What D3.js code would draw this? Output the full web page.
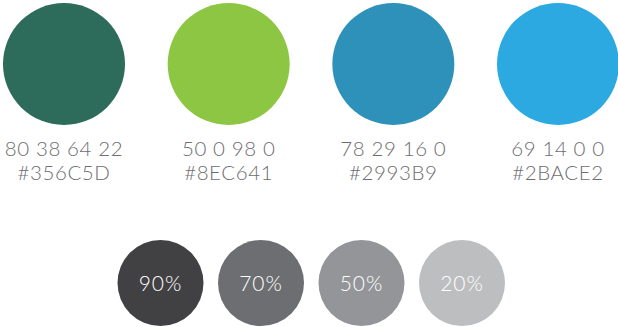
<!DOCTYPE html>
<html>
<head>
<meta charset="utf-8">
<script src="https://cdn.jsdelivr.net/npm/d3@7"></script>
<style>
  html, body { margin: 0; padding: 0; background: #fff; }
  svg { display: block; }
</style>
</head>
<body>
<div id="main"></div>
<script>
// palette data
const swatchHex = ['#356C5D', '#8EC641', '#2993B9', '#2BACE2'];
const swatchFill = ['#2D6B5B', '#8DC642', '#2E91B9', '#2BA9E0'];
const swatchCmyk = ['80 38 64 22', '50 0 98 0', '78 29 16 0', '69 14 0 0'];
const tintLabels = ['90%', '70%', '50%', '20%'];
const tintFill = ['#414042', '#6D6E71', '#939598', '#BCBEC0'];

const width = 618;
const height = 327;

const svg = d3.select('#main').append('svg')
  .attr('width', width)
  .attr('height', height);

// top row of swatches
const xTop = d3.scalePoint()
  .domain(d3.range(swatchHex.length))
  .range([64, 558]);

const swatches = svg.selectAll('g.swatch')
  .data(swatchHex)
  .enter()
  .append('g')
  .attr('class', 'swatch')
  .attr('transform', (d, i) => `translate(${xTop(i)},0)`);

swatches.append('circle')
  .attr('cy', 64)
  .attr('r', 61)
  .style('fill', (d, i) => swatchFill[i]);

swatches.append('text')
  .attr('y', 156)
  .attr('text-anchor', 'middle')
  .style('font-family', 'Lato, sans-serif')
  .style('font-weight', 300)
  .style('font-size', '20.5px')
  .style('letter-spacing', '0.6px')
  .style('fill', '#6d6e71')
  .text((d, i) => swatchCmyk[i]);

swatches.append('text')
  .attr('y', 180)
  .attr('text-anchor', 'middle')
  .style('font-family', 'Lato, sans-serif')
  .style('font-weight', 300)
  .style('font-size', '20.5px')
  .style('letter-spacing', '0.6px')
  .style('fill', '#6d6e71')
  .text((d) => d);

// bottom row of tints
const xBottom = d3.scalePoint()
  .domain(d3.range(tintLabels.length))
  .range([160.5, 462]);

const tints = svg.selectAll('g.tint')
  .data(tintLabels)
  .enter()
  .append('g')
  .attr('class', 'tint')
  .attr('transform', (d, i) => `translate(${xBottom(i)},283)`);

tints.append('circle')
  .attr('r', 43)
  .style('fill', (d, i) => tintFill[i]);

tints.append('text')
  .attr('y', 8)
  .attr('text-anchor', 'middle')
  .style('font-family', 'Lato, sans-serif')
  .style('font-weight', 300)
  .style('font-size', '21px')
  .style('letter-spacing', '1px')
  .style('fill', '#fff')
  .text((d) => d);
</script>
</body>
</html>
